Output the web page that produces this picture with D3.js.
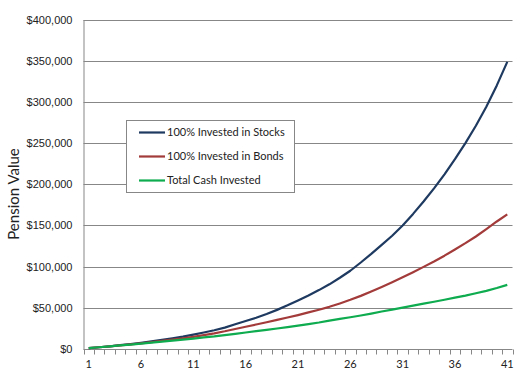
<!DOCTYPE html>
<html>
<head>
<meta charset="utf-8">
<script src="https://cdn.jsdelivr.net/npm/d3@7"></script>
<style>
  body { margin: 0; background: #fff; }
  svg { display: block; font-family: Lato, "Open Sans", sans-serif; }
  .grid line { stroke: #878787; stroke-width: 1; }
  .tick-label { font-size: 11px; fill: #222; }
  .legend-text { font-size: 11px; fill: #222; }
</style>
</head>
<body>
<script>
// years 1..41
const years = d3.range(1, 42);

// pension value in thousands of dollars
const stocks = [1.0, 2.1, 3.3, 4.6, 6.0, 7.6, 9.3, 11.1, 13.0, 15.0,
  17.4, 20.0, 22.8, 26.0, 30.0, 34.0, 38.0, 42.5, 47.5, 53.0,
  59.0, 65.0, 71.5, 78.5, 86.5, 95.0, 105.0, 115.5, 126.5, 137.5,
  150.0, 164.0, 179.0, 195.0, 212.0, 230.5, 250.0, 271.0, 294.0, 320.0, 348.5];

const bonds = [1.0, 2.1, 3.2, 4.4, 5.6, 6.9, 8.3, 9.8, 11.3, 13.0,
  14.8, 16.8, 19.0, 21.5, 24.3, 27.0, 29.7, 32.5, 35.3, 38.2,
  41.2, 44.4, 47.7, 51.2, 55.3, 59.7, 64.5, 69.8, 75.3, 81.0,
  87.0, 93.3, 99.7, 106.3, 113.3, 120.8, 128.5, 136.6, 145.5, 154.8, 163.5];

const cash = [1.0, 2.1, 3.2, 4.3, 5.4, 6.6, 7.8, 9.0, 10.2, 11.4,
  12.7, 14.0, 15.3, 16.9, 18.4, 20.0, 21.6, 23.2, 24.9, 26.6,
  28.3, 30.2, 32.2, 34.5, 36.5, 38.5, 40.7, 43.0, 45.5, 47.8,
  50.2, 52.6, 55.0, 57.4, 59.8, 62.3, 64.8, 67.7, 70.6, 74.0, 77.8];

const seriesNames = ['100% Invested in Stocks', '100% Invested in Bonds', 'Total Cash Invested'];
const seriesColors = ['#1f3a60', '#a23b3a', '#0eab4f'];
const yTicks = [0, 50, 100, 150, 200, 250, 300, 350, 400];
const xLabels = [1, 6, 11, 16, 21, 26, 31, 36, 41];

const width = 523, height = 373;
const margin = {left: 83.5, right: 10.5, top: 19.5, bottom: 24};

const svg = d3.select('body').append('svg')
  .attr('width', width)
  .attr('height', height);

const x = d3.scaleBand()
  .domain(years)
  .range([margin.left, width - margin.right]);

const y = d3.scaleLinear()
  .domain([0, 400])
  .range([height - margin.bottom, margin.top]);

// horizontal gridlines
svg.append('g')
  .attr('class', 'grid')
  .selectAll('line')
  .data(yTicks.filter(d => d > 0))
  .enter()
  .append('line')
  .attr('x1', margin.left)
  .attr('x2', width - margin.right)
  .attr('y1', d => Math.round(y(d)) + 0.5)
  .attr('y2', d => Math.round(y(d)) + 0.5);

// y axis
const yAxis = svg.append('g')
  .attr('transform', `translate(${margin.left},0)`)
  .call(d3.axisLeft(y).tickValues(yTicks).tickSize(0).tickPadding(11)
    .tickFormat(d => d === 0 ? '$0' : '$' + d3.format(',')(d * 1000)));
yAxis.select('.domain').attr('stroke', '#878787');
yAxis.selectAll('text').attr('class', 'tick-label').attr('fill', '#222');

// x axis, ticks between categories
const xBase = Math.round(y(0)) + 0.5;
const xAxis = svg.append('g')
  .attr('transform', `translate(0,${xBase})`);
xAxis.append('line')
  .attr('x1', margin.left)
  .attr('x2', width - margin.right)
  .attr('stroke', '#878787');
xAxis.selectAll('.xtick')
  .data(years.concat([years.length + 1]))
  .enter()
  .append('line')
  .attr('class', 'xtick')
  .attr('x1', (d, i) => Math.round(margin.left + i * x.bandwidth()) + 0.5)
  .attr('x2', (d, i) => Math.round(margin.left + i * x.bandwidth()) + 0.5)
  .attr('y1', 0)
  .attr('y2', 5)
  .attr('stroke', '#878787');
xAxis.selectAll('.xlabel')
  .data(xLabels)
  .enter()
  .append('text')
  .attr('class', 'tick-label')
  .attr('x', d => x(d) + x.bandwidth() / 2)
  .attr('y', 18)
  .attr('text-anchor', 'middle')
  .text(d => d);

// y axis title
svg.append('text')
  .attr('transform', `translate(19,194) rotate(-90)`)
  .attr('text-anchor', 'middle')
  .style('font-size', '15px')
  .attr('fill', '#222')
  .text('Pension Value');

// lines
const line = d3.line()
  .x((d, i) => x(years[i]) + x.bandwidth() / 2)
  .y(d => y(d));

[stocks, bonds, cash].forEach((vals, i) => {
  svg.append('path')
    .datum(vals)
    .attr('fill', 'none')
    .attr('stroke', seriesColors[i])
    .attr('stroke-width', 2.2)
    .attr('stroke-linejoin', 'round')
    .attr('d', line);
});

// legend
const legend = svg.append('g');
legend.append('rect')
  .attr('x', 126.5)
  .attr('y', 120.5)
  .attr('width', 168)
  .attr('height', 72)
  .attr('fill', '#fff')
  .attr('stroke', '#878787');

const item = legend.selectAll('.item')
  .data(seriesNames)
  .enter()
  .append('g')
  .attr('transform', (d, i) => `translate(0,${132.5 + i * 24})`);
item.append('line')
  .attr('x1', 139)
  .attr('x2', 165)
  .attr('stroke', (d, i) => seriesColors[i])
  .attr('stroke-width', 2.2);
item.append('text')
  .attr('class', 'legend-text')
  .attr('x', 167)
  .attr('dy', '0.35em')
  .text(d => d);
</script>
</body>
</html>
